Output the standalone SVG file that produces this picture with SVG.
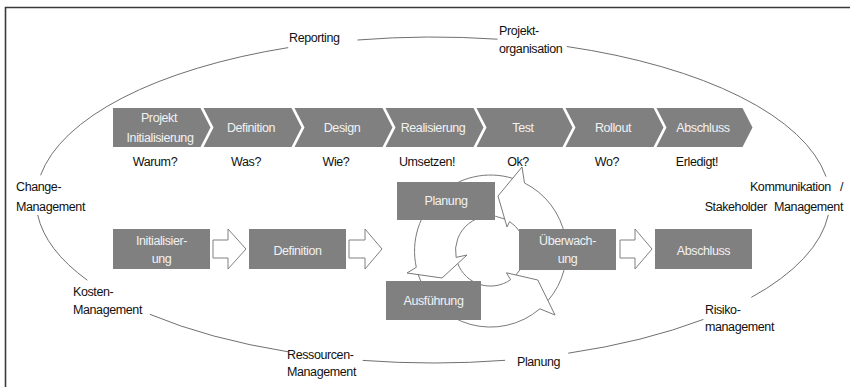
<svg xmlns="http://www.w3.org/2000/svg" width="850" height="387" viewBox="0 0 850 387">
  <style>
    .lbl { font-family: "Liberation Sans", Arial, sans-serif; font-size: 12.5px; fill: #111; letter-spacing: -0.4px; }
    .inv { font-family: "Liberation Sans", Arial, sans-serif; font-size: 12.5px; fill: #f2f2f2; letter-spacing: -0.4px; text-anchor: middle; }
    .mid { text-anchor: middle; }
    .end { text-anchor: end; }
    .box { fill: #808080; }
    .ring { fill: none; stroke: #707070; stroke-width: 1; }
    .hollow { fill: #fff; stroke: #808080; stroke-width: 1; stroke-linejoin: miter; }
    .cyc { fill: none; stroke: #7a7a7a; stroke-width: 1; stroke-linejoin: miter; }
  </style>

  <rect width="850" height="387" fill="#fff"/>
  <!-- frame -->
  <path d="M5.5,387 V7.5 H850" fill="none" stroke="#3a3a3a" stroke-width="1.6"/>

  <!-- outer ellipse of knowledge areas, broken at the labels -->
  <g id="connectors" class="ring">
    <path d="M357.5,40 A397,163 0 0 1 497.5,39.2"/>
    <path d="M566.7,46.5 A397,163 0 0 1 826,176.6"/>
    <path d="M828.3,214.9 A397,163 0 0 1 751.3,297.4"/>
    <path d="M703.4,319.4 A397,163 0 0 1 568.2,353.2"/>
    <path d="M505.1,360.3 A397,163 0 0 1 362.7,360.4"/>
    <path d="M288.2,351.8 A397,163 0 0 1 149.8,314.3"/>
    <path d="M87.3,280.2 A397,163 0 0 1 37.7,215"/>
    <path d="M40.6,175.2 A397,163 0 0 1 288.2,47.6"/>
  </g>

  <!-- ellipse labels -->
  <g id="label-reporting"><text class="lbl" x="289" y="42">Reporting</text></g>
  <g id="label-organisation"><text class="lbl" x="499" y="35">Projekt-</text><text class="lbl" x="499" y="53">organisation</text></g>
  <g id="label-kommunikation">
    <text class="lbl end" x="843" y="191" word-spacing="6">Kommunikation /</text>
    <text class="lbl end" x="843" y="211" word-spacing="4">Stakeholder Management</text>
  </g>
  <g id="label-risiko"><text class="lbl" x="705" y="314">Risiko-</text><text class="lbl" x="705" y="331">management</text></g>
  <g id="label-planung"><text class="lbl" x="517" y="366">Planung</text></g>
  <g id="label-ressourcen"><text class="lbl" x="287" y="359">Ressourcen-</text><text class="lbl" x="287" y="376">Management</text></g>
  <g id="label-kosten"><text class="lbl" x="73" y="296">Kosten-</text><text class="lbl" x="73" y="314">Management</text></g>
  <g id="label-change"><text class="lbl" x="16" y="191">Change-</text><text class="lbl" x="16" y="211">Management</text></g>

  <!-- phase chevrons -->
  <g id="phase-initialisierung">
    <path class="box" d="M113,108 H200.5 L210.5,127.5 L200.5,147 H113 Z"/>
    <text class="inv" x="159" y="122">Projekt</text>
    <text class="inv" x="160" y="142">Initialisierung</text>
  </g>
  <g id="phase-definition">
    <path class="box" d="M203.5,108 H291.5 L301.5,127.5 L291.5,147 H203.5 L213.5,127.5 Z"/>
    <text class="inv" x="251" y="132">Definition</text>
  </g>
  <g id="phase-design">
    <path class="box" d="M294.5,108 H382.5 L392.5,127.5 L382.5,147 H294.5 L304.5,127.5 Z"/>
    <text class="inv" x="342" y="132">Design</text>
  </g>
  <g id="phase-realisierung">
    <path class="box" d="M385.5,108 H473.5 L483.5,127.5 L473.5,147 H385.5 L395.5,127.5 Z"/>
    <text class="inv" x="433" y="132">Realisierung</text>
  </g>
  <g id="phase-test">
    <path class="box" d="M476.5,108 H562.5 L572.5,127.5 L562.5,147 H476.5 L486.5,127.5 Z"/>
    <text class="inv" x="523" y="132">Test</text>
  </g>
  <g id="phase-rollout">
    <path class="box" d="M565.5,108 H653.5 L663.5,127.5 L653.5,147 H565.5 L575.5,127.5 Z"/>
    <text class="inv" x="613" y="132">Rollout</text>
  </g>
  <g id="phase-abschluss">
    <path class="box" d="M656.5,108 H742.5 L752.5,127.5 L742.5,147 H656.5 L666.5,127.5 Z"/>
    <text class="inv" x="703" y="132">Abschluss</text>
  </g>

  <!-- questions under the phases -->
  <g id="questions">
    <text class="lbl mid" x="155" y="166">Warum?</text>
    <text class="lbl mid" x="246" y="166">Was?</text>
    <text class="lbl mid" x="336" y="166">Wie?</text>
    <text class="lbl mid" x="427" y="166">Umsetzen!</text>
    <text class="lbl mid" x="518" y="166">Ok?</text>
    <text class="lbl mid" x="607" y="166">Wo?</text>
    <text class="lbl mid" x="697" y="166">Erledigt!</text>
  </g>

  <!-- control cycle: three curved block arrows around (490.5,251), running counter-clockwise;
       each tail ends under the head of the following arrow -->
  <g id="cycle" class="cyc">
    <!-- Überwachung to Planung -->
    <path d="M548,300.6 A76,76 0 0 0 524.5,183 L522,167 L498,196 L507,227 L509.6,221.6 A35,35 0 0 1 516,275"/>
    <!-- Planung to Ausführung -->
    <path d="M512.6,178.3 A76,76 0 0 0 416.3,267.3 L407,273 L442,278 L467,255 L456.1,257.4 A35,35 0 0 1 504.7,219"/>
    <!-- Ausführung to Überwachung -->
    <path d="M418.2,274.6 A76,76 0 0 0 539.9,308.8 L555,315 L537.8,280 L506.4,272.8 L510.6,279.7 A35,35 0 0 1 457.75,263.5"/>
  </g>

  <!-- process boxes -->
  <g id="step-initialisierung">
    <rect class="box" x="113" y="229" width="97" height="40"/>
    <text class="inv" x="161.5" y="245">Initialisier-</text>
    <text class="inv" x="161.5" y="263">ung</text>
  </g>
  <g id="arrow-1"><path class="hollow" d="M213,240 H228 V229 L246,249 L228,269 V258 H213 Z"/></g>
  <g id="step-definition">
    <rect class="box" x="249" y="229" width="97" height="40"/>
    <text class="inv" x="297.5" y="255">Definition</text>
  </g>
  <g id="arrow-2"><path class="hollow" d="M349,240 H365 V229 L382,249 L365,269 V258 H349 Z"/></g>
  <g id="step-planung">
    <rect class="box" x="397" y="182" width="98" height="38"/>
    <text class="inv" x="446" y="205">Planung</text>
  </g>
  <g id="step-ausfuehrung">
    <rect class="box" x="386" y="281" width="95" height="39"/>
    <text class="inv" x="433.5" y="305">Ausführung</text>
  </g>
  <g id="step-ueberwachung">
    <rect class="box" x="519" y="229" width="97" height="41"/>
    <text class="inv" x="567.5" y="245">Überwach-</text>
    <text class="inv" x="567.5" y="263">ung</text>
  </g>
  <g id="arrow-3"><path class="hollow" d="M620,240 H635 V229 L652,249 L635,269 V258 H620 Z"/></g>
  <g id="step-abschluss">
    <rect class="box" x="655" y="229" width="97" height="40"/>
    <text class="inv" x="703.5" y="255">Abschluss</text>
  </g>
</svg>
